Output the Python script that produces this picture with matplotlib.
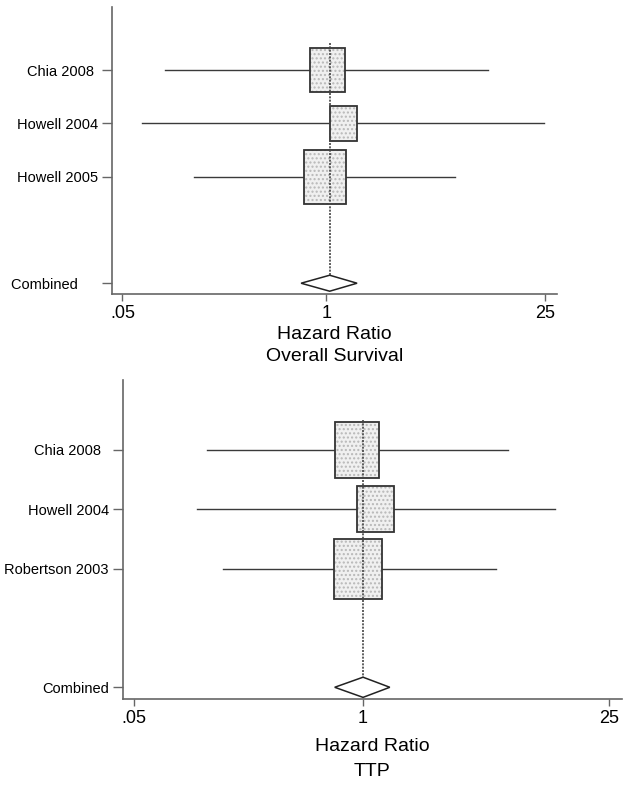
import matplotlib.pyplot as plt
import numpy as np
from matplotlib.patches import Rectangle, Polygon

plt.rcParams['font.family'] = ['Liberation Sans', 'DejaVu Sans']

# Overall survival
os_studies = ['Chia 2008', 'Howell 2004', 'Howell 2005']
os_hr = [1.02, 1.29, 0.98]
os_lo = [0.094, 0.067, 0.144]
os_hi = [10.8, 24.6, 6.65]
os_wt = [32, 20, 48]
os_comb = [1.05, 0.69, 1.57]

# time to progression
ttp_studies = ['Chia 2008', 'Howell 2004', 'Robertson 2003']
ttp_hr = [0.92, 1.18, 0.94]
ttp_lo = [0.130, 0.114, 0.160]
ttp_hi = [6.68, 12.3, 5.70]
ttp_wt = [35, 24, 41]
ttp_comb = [1.00, 0.69, 1.42]

xticks = [0.05, 1, 25]
xticklabels = ['.05', '1', '25']

line_col = '#3a3a3a'
spine_col = '#666666'


def forest(ax, studies, hr, lo, hi, wt, comb, bw, bh, dh, pads, subtitle, labelpad, lsp):
    ax.set_xscale('log')
    n = len(studies)
    ypos = list(range(1, n + 1))
    ycomb = n + 2
    for y, h, l, u, w in zip(ypos, hr, lo, hi, wt):
        ax.plot([l, u], [y, y], color=line_col, lw=1.0, zorder=2)
        hw = bw * np.sqrt(w)
        hh = bh * np.sqrt(w)
        x0 = h * np.exp(-hw)
        x1 = h * np.exp(hw)
        ax.add_patch(Rectangle((x0, y - hh), x1 - x0, 2 * hh, facecolor='#f0f0f0',
                               edgecolor='#b8b8b8', hatch='....', lw=0, zorder=3))
        ax.add_patch(Rectangle((x0, y - hh), x1 - x0, 2 * hh, facecolor='none',
                               edgecolor='#333333', lw=1.3, zorder=4))
    c, cl, cu = comb
    ax.add_patch(Polygon([[cl, ycomb], [c, ycomb - dh], [cu, ycomb], [c, ycomb + dh]],
                         closed=True, facecolor='white', edgecolor='#222222', lw=1.1, zorder=4))
    ax.plot([c, c], [0.5, ycomb - dh], color='#444444', lw=1.2, ls=(0, (1.2, 0.8)), zorder=5)

    ax.set_xlim(0.0430, 29.6)
    ax.set_ylim(5.2, -0.18)
    ax.set_xticks(xticks)
    ax.set_xticklabels(xticklabels, fontsize=13)
    ax.minorticks_off()
    ax.set_yticks(ypos + [ycomb])
    ax.set_yticklabels([s + ' ' * p for s, p in zip(studies + ['Combined'], pads)], fontsize=10.5)
    ax.tick_params(axis='y', length=7, pad=3, color=spine_col, width=1)
    ax.tick_params(axis='x', length=5, pad=3, color=spine_col, width=1)
    for s in ['top', 'right']:
        ax.spines[s].set_visible(False)
    for s in ['left', 'bottom']:
        ax.spines[s].set_color(spine_col)
        ax.spines[s].set_linewidth(1.2)
    ax.set_xlabel('Hazard Ratio\n' + subtitle, fontsize=14, linespacing=lsp, labelpad=labelpad)


fig = plt.figure(figsize=(6.23, 7.90), dpi=100)
ax1 = fig.add_axes([0.180, 0.628, 0.714, 0.363])
ax2 = fig.add_axes([0.197, 0.115, 0.801, 0.404])

forest(ax1, os_studies, os_hr, os_lo, os_hi, os_wt, os_comb,
       0.045, 0.073, 0.15, [1, 0, 0, 5], 'Overall Survival', 3, 1.35)
forest(ax2, ttp_studies, ttp_hr, ttp_lo, ttp_hi, ttp_wt, ttp_comb,
       0.049, 0.079, 0.17, [2, 0, 0, 0], 'TTP', 8, 1.6)

fig.savefig('out.png', dpi=100)
